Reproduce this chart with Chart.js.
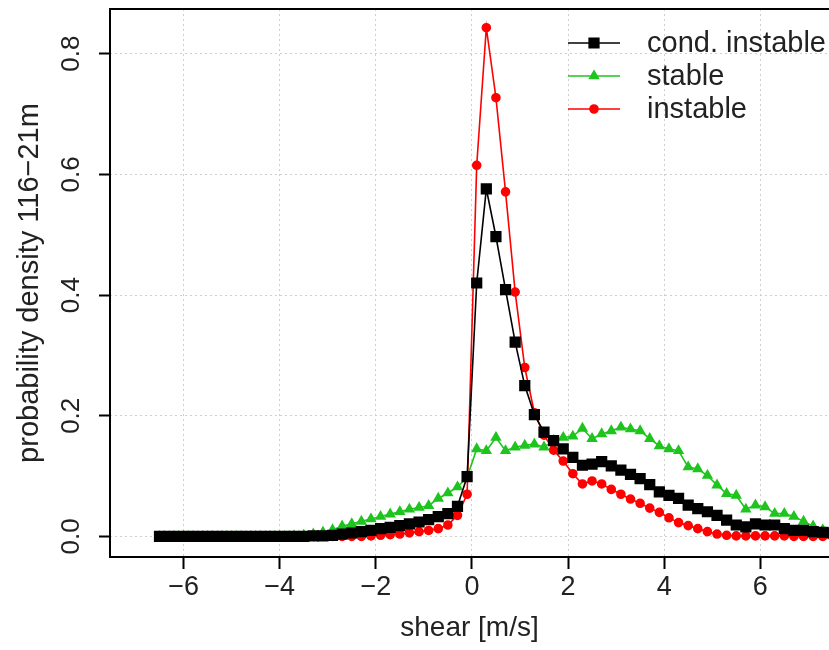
<!DOCTYPE html>
<html>
<head>
<meta charset="utf-8">
<script src="https://cdn.jsdelivr.net/npm/chart.js@4.4.1/dist/chart.umd.min.js"></script>
<style>
  html, body { margin: 0; padding: 0; background: #fff; overflow: hidden; }
  canvas { display: block; }
</style>
</head>
<body>
<canvas id="shearChart" width="829" height="650"></canvas>
<script>
// bin centres of the shear histogram [m/s]
const shear = [
  -6.5, -6.3, -6.1, -5.9, -5.7, -5.5, -5.3, -5.1, -4.9, -4.7, -4.5, -4.3, -4.1, -3.9, -3.7, -3.5, -3.3, -3.1,
  -2.9, -2.7, -2.5, -2.3, -2.1, -1.9, -1.7, -1.5, -1.3, -1.1, -0.9, -0.7, -0.5, -0.3, -0.1,
  0.1, 0.3, 0.5, 0.7, 0.9, 1.1, 1.3, 1.5, 1.7, 1.9, 2.1, 2.3, 2.5, 2.7, 2.9, 3.1, 3.3, 3.5, 3.7,
  3.9, 4.1, 4.3, 4.5, 4.7, 4.9, 5.1, 5.3, 5.5, 5.7, 5.9, 6.1, 6.3, 6.5, 6.7, 6.9, 7.1, 7.3, 7.5
];

const condInstable = [
  0, 0, 0, 0, 0, 0, 0, 0, 0, 0, 0, 0, 0, 0, 0, 0, 0.001, 0.001,
  0.002, 0.004, 0.006, 0.008, 0.010, 0.013, 0.015, 0.018, 0.021, 0.024, 0.028, 0.033, 0.038, 0.050, 0.099,
  0.420, 0.576, 0.497, 0.409, 0.322, 0.250, 0.202, 0.173, 0.159, 0.145, 0.131, 0.118, 0.120, 0.124, 0.117, 0.110, 0.103, 0.096, 0.086,
  0.074, 0.068, 0.063, 0.052, 0.046, 0.041, 0.035, 0.027, 0.019, 0.016, 0.021, 0.019, 0.019, 0.013, 0.010, 0.010, 0.008, 0.007, 0.006
];

const stable = [
  0, 0, 0, 0, 0, 0, 0, 0, 0, 0, 0, 0, 0, 0, 0.001, 0.002, 0.004, 0.007,
  0.011, 0.017, 0.021, 0.025, 0.029, 0.033, 0.037, 0.041, 0.045, 0.048, 0.051, 0.063, 0.072, 0.082, 0.098,
  0.145, 0.142, 0.164, 0.142, 0.148, 0.151, 0.153, 0.148, 0.159, 0.164, 0.166, 0.179, 0.162, 0.170, 0.175, 0.181, 0.178, 0.175, 0.162,
  0.150, 0.145, 0.142, 0.115, 0.112, 0.101, 0.085, 0.071, 0.068, 0.045, 0.052, 0.049, 0.038, 0.038, 0.033, 0.025, 0.017, 0.011, 0.008
];

const instable = [
  0, 0, 0, 0, 0, 0, 0, 0, 0, 0, 0, 0, 0, 0, 0, 0, 0, 0,
  0, 0, 0, 0, 0.001, 0.002, 0.003, 0.004, 0.006, 0.008, 0.010, 0.013, 0.019, 0.035, 0.070,
  0.615, 0.843, 0.727, 0.571, 0.405, 0.280, 0.205, 0.168, 0.143, 0.125, 0.104, 0.087, 0.092, 0.087, 0.078, 0.070, 0.062, 0.055, 0.047,
  0.040, 0.031, 0.023, 0.018, 0.013, 0.008, 0.004, 0.002, 0.001, 0.001, 0.001, 0.001, 0.001, 0.001, 0, 0, 0, 0, 0
];

const xTicks = [-6, -4, -2, 0, 2, 4, 6];
const yTicks = [0, 0.2, 0.4, 0.6, 0.8];
const yTickLabels = ['0.0', '0.2', '0.4', '0.6', '0.8'];

const FONT = '"Liberation Sans", Arial, Helvetica, sans-serif';
const TEXT = '#222';

const toPoints = vals => vals.map((v, i) => ({ x: shear[i], y: v }));

// frame (right side is off the picture), rotated y labels and the legend, drawn R-style
const rStyle = {
  id: 'rStyle',
  afterDatasetsDraw(chart) {
    const { ctx, chartArea: a, scales } = chart;
    ctx.save();
    ctx.strokeStyle = '#000';
    ctx.lineWidth = 2;
    ctx.beginPath();
    ctx.moveTo(a.right + 2, a.top);
    ctx.lineTo(a.left, a.top);
    ctx.lineTo(a.left, a.bottom);
    ctx.lineTo(a.right + 2, a.bottom);
    ctx.stroke();

    ctx.fillStyle = TEXT;
    ctx.textAlign = 'center';
    ctx.textBaseline = 'middle';
    ctx.font = '26px ' + FONT;
    yTicks.forEach((v, i) => {
      const y = scales.y.getPixelForValue(v);
      ctx.save();
      ctx.translate(72, y);
      ctx.rotate(-Math.PI / 2);
      ctx.fillText(yTickLabels[i], 0, 0);
      ctx.restore();
    });
    ctx.save();
    ctx.font = '29px ' + FONT;
    ctx.translate(30, (a.top + a.bottom) / 2);
    ctx.rotate(-Math.PI / 2);
    ctx.fillText('probability density 116\u221221m', 0, 0);
    ctx.restore();

    // legend
    ctx.font = '29px ' + FONT;
    ctx.textAlign = 'left';
    chart.data.datasets.forEach((ds, i) => {
      const y = 43 + 33 * i;
      ctx.strokeStyle = ds.borderColor;
      ctx.lineWidth = ds.borderWidth;
      ctx.beginPath();
      ctx.moveTo(568, y);
      ctx.lineTo(620, y);
      ctx.stroke();
      ctx.fillStyle = ds.pointBackgroundColor;
      ctx.strokeStyle = ds.borderColor;
      Chart.helpers.drawPoint(ctx, {
        pointStyle: ds.pointStyle, radius: ds.pointRadius, rotation: 0, borderWidth: 1
      }, 594, y);
      ctx.fillStyle = TEXT;
      ctx.fillText(ds.label, 647, y + 1);
    });
    ctx.restore();
  }
};

const chart = new Chart(document.getElementById('shearChart').getContext('2d'), {
  type: 'line',
  data: {
    datasets: [
      {
        label: 'cond. instable', data: toPoints(condInstable),
        borderColor: '#000000', pointBackgroundColor: '#000000',
        borderWidth: 1.6, pointStyle: 'rect', pointRadius: 6.8
      },
      {
        label: 'stable', data: toPoints(stable),
        borderColor: '#1fc41f', pointBackgroundColor: '#1fc41f',
        borderWidth: 1.6, pointStyle: 'triangle', pointRadius: 5
      },
      {
        label: 'instable', data: toPoints(instable),
        borderColor: '#ff0000', pointBackgroundColor: '#ff0000',
        borderWidth: 1.6, pointStyle: 'circle', pointRadius: 4
      }
    ]
  },
  options: {
    responsive: false,
    animation: false,
    devicePixelRatio: 1,
    layout: { autoPadding: false, padding: { top: 9, right: 0, left: 0, bottom: 0 } },
    elements: {
      line: { tension: 0 },
      point: { borderWidth: 0, hoverRadius: 4 }
    },
    plugins: {
      legend: { display: false },
      tooltip: { enabled: false }
    },
    scales: {
      x: {
        type: 'linear',
        min: -7.53,
        max: 7.43,
        afterBuildTicks: s => { s.ticks = xTicks.map(v => ({ value: v })); },
        afterFit: s => { s.height = 93; s.paddingLeft = 0; s.paddingRight = 0; },
        grid: {
          color: '#cfcfcf', lineWidth: 1,
          drawTicks: true, tickLength: 12, tickColor: '#000', tickWidth: 2, tickBorderDash: []
        },
        border: { display: false, dash: [2, 3] },
        ticks: {
          autoSkip: false, maxRotation: 0, padding: 2,
          color: TEXT, font: { size: 27, family: FONT },
          callback: v => (v < 0 ? '\u2212' + Math.abs(v) : String(v))
        },
        title: {
          display: true, text: 'shear [m/s]', color: TEXT,
          font: { size: 28, family: FONT }, padding: { top: 0, bottom: 5 }
        }
      },
      y: {
        type: 'linear',
        min: -0.034,
        max: 0.874,
        afterBuildTicks: s => { s.ticks = yTicks.map(v => ({ value: v })); },
        afterFit: s => { s.width = 110; s.paddingTop = 0; s.paddingBottom = 0; },
        grid: {
          color: '#cfcfcf', lineWidth: 1,
          drawTicks: true, tickLength: 11, tickColor: '#000', tickWidth: 2, tickBorderDash: []
        },
        border: { display: false, dash: [2, 3] },
        ticks: { display: false }
      }
    }
  },
  plugins: [rStyle]
});
</script>
</body>
</html>
